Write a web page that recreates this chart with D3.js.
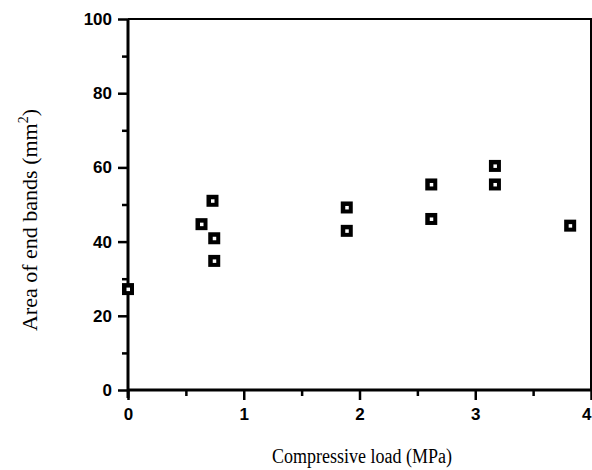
<!DOCTYPE html>
<html>
<head>
<meta charset="utf-8">
<script src="https://cdn.jsdelivr.net/npm/d3@7"></script>
<style>
  body { margin: 0; background: #fff; }
</style>
</head>
<body>
<div id="chart"></div>
<script>
// values
const loads = [0, 0.73, 0.635, 0.745, 0.745, 1.89, 1.89, 2.62, 2.62, 3.17, 3.17, 3.82];
const areas = [27.2, 51.0, 44.7, 40.9, 34.8, 49.2, 42.9, 55.4, 46.1, 60.4, 55.4, 44.3];
const xTicks = [0, 1, 2, 3, 4];
const yTicks = [0, 20, 40, 60, 80, 100];
const xMinor = [0.5, 1.5, 2.5, 3.5];
const yMinor = [10, 30, 50, 70, 90];

const W = 592, H = 470;
const margin = { top: 19, right: 1, bottom: 80, left: 128 };

const svg = d3.select("#chart").append("svg")
    .attr("width", W)
    .attr("height", H);

const x = d3.scaleLinear().domain([0, 4]).range([margin.left, W - margin.right]);
const y = d3.scaleLinear().domain([0, 100]).range([H - margin.bottom, margin.top]);

const tickFont = "'Liberation Sans', Arial, sans-serif";
const titleFont = "'Liberation Serif', 'Times New Roman', serif";

// frame (top and right)
svg.append("path")
    .attr("d", `M${x(0)},${y(100)}H${x(4)}V${y(0)}`)
    .attr("fill", "none")
    .attr("stroke", "#000")
    .attr("stroke-width", 2);

// x axis
const xAxis = svg.append("g")
    .attr("transform", `translate(0,${y(0)})`)
    .call(d3.axisBottom(x).tickValues(xTicks).tickFormat(d3.format("d")).tickSize(10).tickPadding(8));
svg.append("g")
    .attr("transform", `translate(0,${y(0)})`)
    .call(d3.axisBottom(x).tickValues(xMinor).tickFormat("").tickSize(6))
    .call(g => g.select(".domain").remove());

// y axis
const yAxis = svg.append("g")
    .attr("transform", `translate(${x(0)},0)`)
    .call(d3.axisLeft(y).tickValues(yTicks).tickSize(10).tickPadding(6));
svg.append("g")
    .attr("transform", `translate(${x(0)},0)`)
    .call(d3.axisLeft(y).tickValues(yMinor).tickFormat("").tickSize(6))
    .call(g => g.select(".domain").remove());

svg.selectAll(".domain").attr("stroke-width", 3).attr("stroke", "#000");
svg.selectAll(".tick line").attr("stroke-width", 2.5).attr("stroke", "#000");
svg.selectAll(".tick text")
    .attr("font-family", tickFont)
    .attr("font-size", 17)
    .attr("font-weight", "bold")
    .attr("fill", "#000");
xAxis.selectAll(".domain").attr("d", `M${x(0)},0H${x(4)}`);
yAxis.selectAll(".domain").attr("d", `M0,${y(0) + 8}V${y(100)}`);
// last x label sits at the edge, keep it inside
xAxis.selectAll(".tick text").filter(d => d === 4).attr("text-anchor", "end").attr("dx", 0);

// points
const s = 12;
const pts = svg.append("g").selectAll("g")
    .data(loads.map((l, i) => ({ load: l, area: areas[i] })))
    .enter()
    .append("g")
    .attr("transform", d => `translate(${x(d.load)},${y(d.area)})`);
pts.append("rect")
    .attr("x", -s / 2).attr("y", -s / 2)
    .attr("width", s).attr("height", s)
    .attr("fill", "#000");
pts.append("rect")
    .attr("x", -1.5).attr("y", -1.5)
    .attr("width", 3.5).attr("height", 3.5)
    .attr("fill", "#fff");

// axis titles
svg.append("text")
    .attr("transform", "translate(362,463) scale(1,1.2)")
    .attr("text-anchor", "middle")
    .attr("font-family", titleFont)
    .attr("font-size", 18)
    .text("Compressive load (MPa)");

const yt = svg.append("text")
    .attr("transform", "translate(37,220) rotate(-90)")
    .attr("text-anchor", "middle")
    .attr("font-family", titleFont)
    .attr("font-size", 22);
yt.append("tspan").text("Area of end bands (mm");
yt.append("tspan").attr("font-size", 14).attr("dy", -9).text("2");
yt.append("tspan").attr("dy", 9).text(")");
</script>
</body>
</html>
